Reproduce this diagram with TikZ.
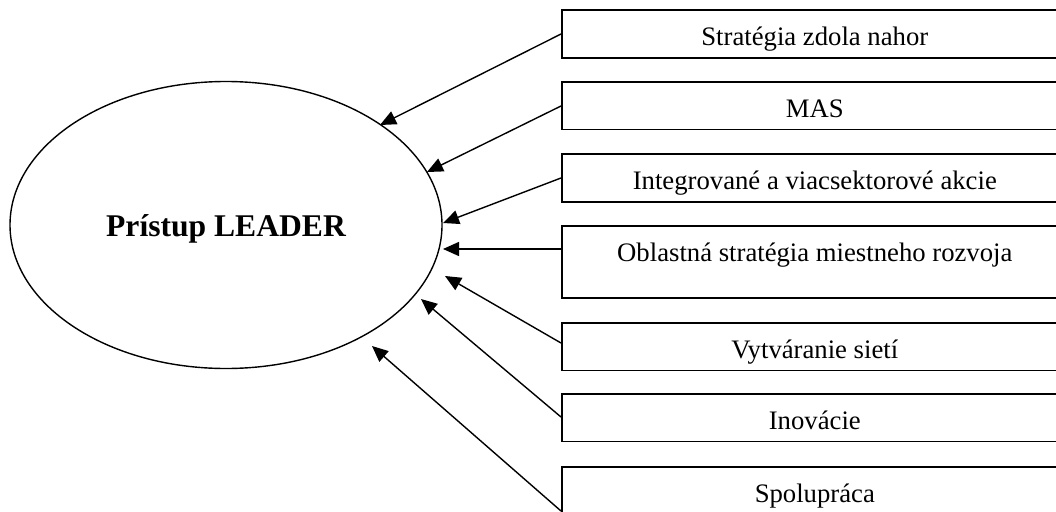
\documentclass[tikz,border=0pt]{standalone}
\usepackage{fontspec}
\setmainfont{Liberation Serif}
\usetikzlibrary{shapes.geometric,arrows.meta}
\tikzset{
  boxnode/.style={draw, line width=1.6pt, anchor=north west, inner sep=0pt,
    minimum width=506pt, text height=36pt, font=\fontsize{26.7}{30}\selectfont},
  conn/.style={line width=1.4pt, -{Triangle[length=16pt,width=14pt]}},
}
\begin{document}
\begin{tikzpicture}[x=1pt,y=-1pt]
\useasboundingbox (0,0) rectangle (1056,511);
\clip (0,0) rectangle (1056,511);
\node[ellipse, draw, line width=1.4pt, minimum width=432pt, minimum height=287pt,
  inner sep=0pt, text height=22pt, text depth=0pt,
  font=\bfseries\fontsize{31.6}{35}\selectfont] (lead) at (226,225) {Prístup LEADER};

\node[boxnode, text depth=12pt] (b1) at (561,9) {Stratégia zdola nahor};
\node[boxnode, text depth=11.6pt] (b2) at (561,81) {MAS};
\node[boxnode, text depth=12pt] (b3) at (561,153) {Integrované a viacsektorové akcie};
\node[boxnode, text depth=36pt] (b4) at (561,225) {Oblastná stratégia miestneho rozvoja};
\node[boxnode, text depth=11.6pt] (b5) at (561,322) {Vytváranie sietí};
\node[boxnode, text depth=11.6pt] (b6) at (561,393) {Inovácie};
\node[boxnode, text depth=14pt] (b7) at (561,466) {Spolupráca};

\path (b1.north west) ++(0,25) coordinate (s1);
\path (b2.north west) ++(0,25) coordinate (s2);
\path (b3.north west) ++(0,25) coordinate (s3);
\path (b4.north west) ++(0,24) coordinate (s4);
\path (b5.north west) ++(0,21) coordinate (s5);
\path (b6.north west) ++(0,24) coordinate (s6);
\path (b7.north west) ++(0,45) coordinate (s7);

\coordinate (e1) at (380,125);
\coordinate (e2) at (427,172);
\coordinate (e3) at (443,223);
\coordinate (e4) at (443,249);
\coordinate (e5) at (445,276);
\coordinate (e6) at (421,299);
\coordinate (e7) at (372,346);

\draw[conn] (s1) -- (e1);
\draw[conn] (s2) -- (e2);
\draw[conn] (s3) -- (e3);
\draw[conn] (s4) -- (e4);
\draw[conn] (s5) -- (e5);
\draw[conn] (s6) -- (e6);
\draw[conn] (s7) -- (e7);
\end{tikzpicture}
\end{document}
